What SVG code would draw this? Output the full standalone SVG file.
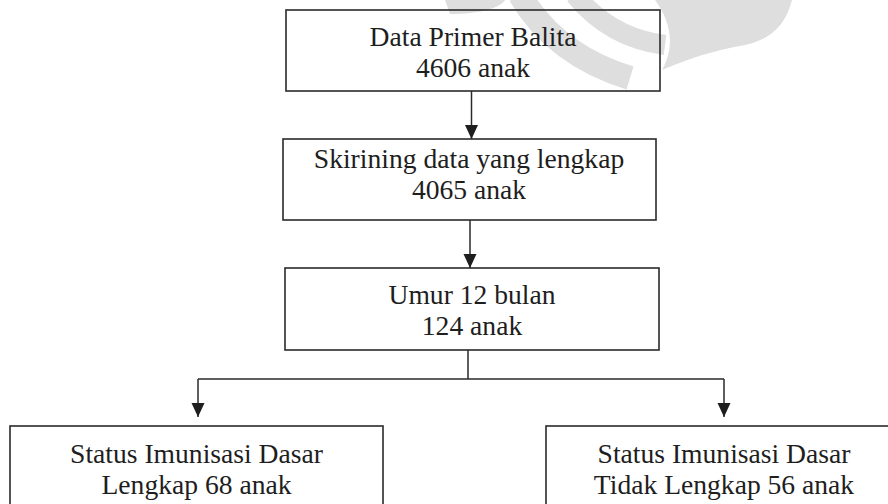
<svg xmlns="http://www.w3.org/2000/svg" width="888" height="504" viewBox="0 0 888 504">
  <style>
    .box { fill: none; stroke: #2a2a2a; stroke-width: 1.6; }
    .lbl { font-family: "Liberation Serif", "Times New Roman", serif; font-size: 27.6px; fill: #1e1e1e; text-anchor: middle; }
    .conn { fill: none; stroke: #2a2a2a; stroke-width: 1.5; }
    .wm { fill: #dedede; stroke: none; }
    .wmb { fill: none; stroke: #dedede; }
  </style>
  <defs>
    <marker id="arrow" markerUnits="userSpaceOnUse" markerWidth="14" markerHeight="14" viewBox="0 0 14 13" refX="14" refY="6.5" orient="auto">
      <path d="M0,0 L14,6.5 L0,13 Z" fill="#1e1e1e"/>
    </marker>
  </defs>
  <rect width="888" height="504" fill="#ffffff"/>

  <g id="watermark">
    <path class="wmb" stroke-width="24" d="M 520 -5 Q 555 55 630 78"/>
    <path class="wmb" stroke-width="20" d="M 575 -5 Q 610 38 665 45"/>
    <path class="wm" d="M 655 0 L 792 0 C 786 25 770 40 745 45 C 712 51 690 58 662 70 C 676 45 670 20 655 0 Z"/>
    <path class="wm" d="M 445 0 L 505 0 C 500 8 480 14 450 14 Z"/>
  </g>

  <g id="connectors">
    <line class="conn" x1="471.5" y1="91" x2="471.5" y2="139" marker-end="url(#arrow)"/>
    <line class="conn" x1="470" y1="220" x2="470" y2="268" marker-end="url(#arrow)"/>
    <polyline class="conn" points="468,350 468,379"/>
    <polyline class="conn" points="198,379 724,379"/>
    <line class="conn" x1="198" y1="379" x2="198" y2="417" marker-end="url(#arrow)"/>
    <line class="conn" x1="724" y1="379" x2="724" y2="417" marker-end="url(#arrow)"/>
  </g>

  <g id="node-data-primer">
    <rect class="box" x="286" y="10" width="374" height="81"/>
    <text class="lbl" x="473" y="46">Data Primer Balita</text>
    <text class="lbl" x="473" y="77">4606 anak</text>
  </g>

  <g id="node-skrining">
    <rect class="box" x="283" y="139" width="373" height="81"/>
    <text class="lbl" x="469" y="168">Skirining data yang lengkap</text>
    <text class="lbl" x="469" y="199">4065 anak</text>
  </g>

  <g id="node-umur">
    <rect class="box" x="285" y="268" width="374" height="82"/>
    <text class="lbl" x="472" y="304">Umur 12 bulan</text>
    <text class="lbl" x="472" y="335">124 anak</text>
  </g>

  <g id="node-lengkap">
    <rect class="box" x="10" y="426" width="373" height="100"/>
    <text class="lbl" x="196.5" y="463">Status Imunisasi Dasar</text>
    <text class="lbl" x="196.5" y="494">Lengkap 68 anak</text>
  </g>

  <g id="node-tidak-lengkap">
    <rect class="box" x="546" y="426" width="354" height="100"/>
    <text class="lbl" x="724" y="463">Status Imunisasi Dasar</text>
    <text class="lbl" x="724" y="494">Tidak Lengkap 56 anak</text>
  </g>
</svg>
